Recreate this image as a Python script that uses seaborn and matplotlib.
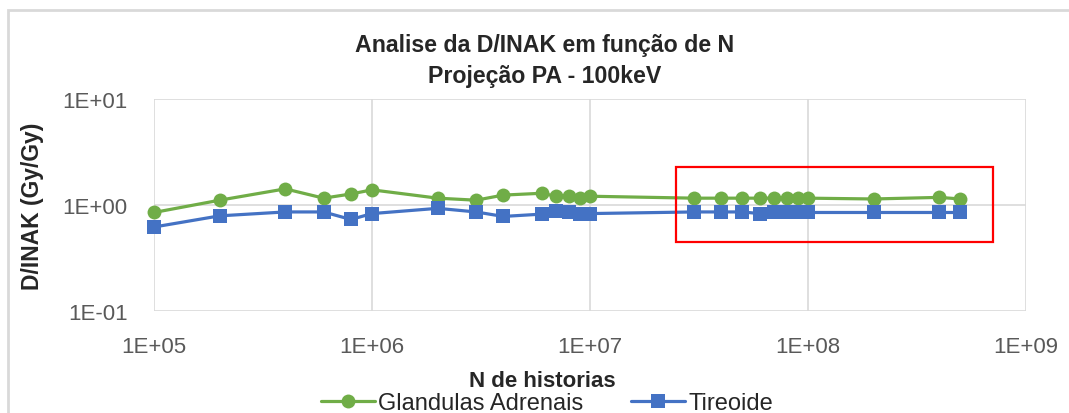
import numpy as np
import pandas as pd
import matplotlib
matplotlib.use('Agg')
import matplotlib.pyplot as plt
import matplotlib.patches as patches
from matplotlib.ticker import FixedLocator, FuncFormatter, NullLocator
import seaborn as sns

# N de historias (x) e D/INAK
n_historias = [1e5, 2e5, 4e5, 6e5, 8e5, 1e6, 2e6, 3e6, 4e6, 6e6, 7e6, 8e6, 9e6, 1e7,
               3e7, 4e7, 5e7, 6e7, 7e7, 8e7, 9e7, 1e8, 2e8, 4e8, 5e8]
glandulas = [0.85, 1.11, 1.42, 1.16, 1.27, 1.39, 1.16, 1.11, 1.24, 1.29, 1.21, 1.21, 1.16, 1.21,
             1.16, 1.16, 1.16, 1.16, 1.16, 1.16, 1.16, 1.16, 1.14, 1.18, 1.14]
tireoide = [0.62, 0.79, 0.86, 0.86, 0.73, 0.83, 0.93, 0.86, 0.78, 0.82, 0.87, 0.85, 0.83, 0.83,
            0.86, 0.86, 0.86, 0.83, 0.85, 0.85, 0.85, 0.85, 0.85, 0.85, 0.85]
series = ['Glandulas Adrenais', 'Tireoide']
cores = {'Glandulas Adrenais': '#70AD47', 'Tireoide': '#4472C4'}
marcadores = {'Glandulas Adrenais': 'o', 'Tireoide': 's'}

# caixa vermelha de destaque
caixa_x = (2.48e7, 7.06e8)
caixa_y = (0.448, 2.28)

df = pd.DataFrame({
    'N': n_historias * 2,
    'D/INAK': glandulas + tireoide,
    'Serie': [series[0]] * len(glandulas) + [series[1]] * len(tireoide),
})

sns.set_style('white')
plt.rcParams['font.family'] = ['Liberation Sans', 'DejaVu Sans']

fig = plt.figure(figsize=(10.69, 4.14), dpi=100)
ax = fig.add_axes([154 / 1069, 102 / 414, 872 / 1069, 212 / 414])

sns.lineplot(data=df, x='N', y='D/INAK', hue='Serie', style='Serie',
             palette=cores, markers=marcadores, dashes=False, linewidth=2.3,
             markersize=10, markeredgewidth=0, ax=ax, sort=True)
for ln in ax.lines:
    ln.set_clip_on(False)

ax.set_xscale('log')
ax.set_yscale('log')
ax.set_xlim(1e5, 1e9)
ax.set_ylim(1e-1, 1e1)

fmt = FuncFormatter(lambda v, p: '1E{:+03d}'.format(int(round(np.log10(v)))))
ax.xaxis.set_major_locator(FixedLocator([1e5, 1e6, 1e7, 1e8, 1e9]))
ax.yaxis.set_major_locator(FixedLocator([1e-1, 1e0, 1e1]))
ax.xaxis.set_minor_locator(NullLocator())
ax.yaxis.set_minor_locator(NullLocator())
ax.xaxis.set_major_formatter(fmt)
ax.yaxis.set_major_formatter(fmt)
ax.tick_params(axis='both', labelsize=16, colors='#595959', length=0)
ax.tick_params(axis='x', pad=18)
ax.tick_params(axis='y', pad=19)

ax.grid(True, color='#d9d9d9', linewidth=1.2)
for s in ax.spines.values():
    s.set_visible(False)

ax.set_xlabel('N de historias', fontsize=16, fontweight='bold')
ax.xaxis.set_label_coords((542 - 154) / 872, -(371 - 312) / 212)
ax.set_ylabel('D/INAK (Gy/Gy)', fontsize=16.5, fontweight='bold')
ax.yaxis.set_label_coords(-(154 - 44) / 872, 0.5)
ax.set_title('Analise da D/INAK em função de N\nProjeção PA - 100keV',
             fontsize=16.7, fontweight='bold', pad=12, linespacing=1.45,
             x=(545 - 154) / 872)

ax.add_patch(patches.Rectangle((caixa_x[0], caixa_y[0]), caixa_x[1] - caixa_x[0],
                               caixa_y[1] - caixa_y[0], fill=False, edgecolor='#FF0000',
                               linewidth=1.6, zorder=5))

handles, labels = ax.get_legend_handles_labels()
ax.legend(handles, labels, loc='center', bbox_to_anchor=((547 - 154) / 872, -(404 - 312) / 212),
          bbox_transform=ax.transAxes, ncol=2, frameon=False, fontsize=17,
          handlelength=2.3, columnspacing=2.0, handletextpad=0.15,
          borderpad=0, borderaxespad=0)

# borda da area do grafico
fig.add_artist(patches.Rectangle((8 / 1069, -0.05), 1.2, (414 - 11) / 414 + 0.05,
                                 transform=fig.transFigure, fill=False,
                                 edgecolor='#d9d9d9', linewidth=2))

fig.savefig('out.png', dpi=100, facecolor='white')
